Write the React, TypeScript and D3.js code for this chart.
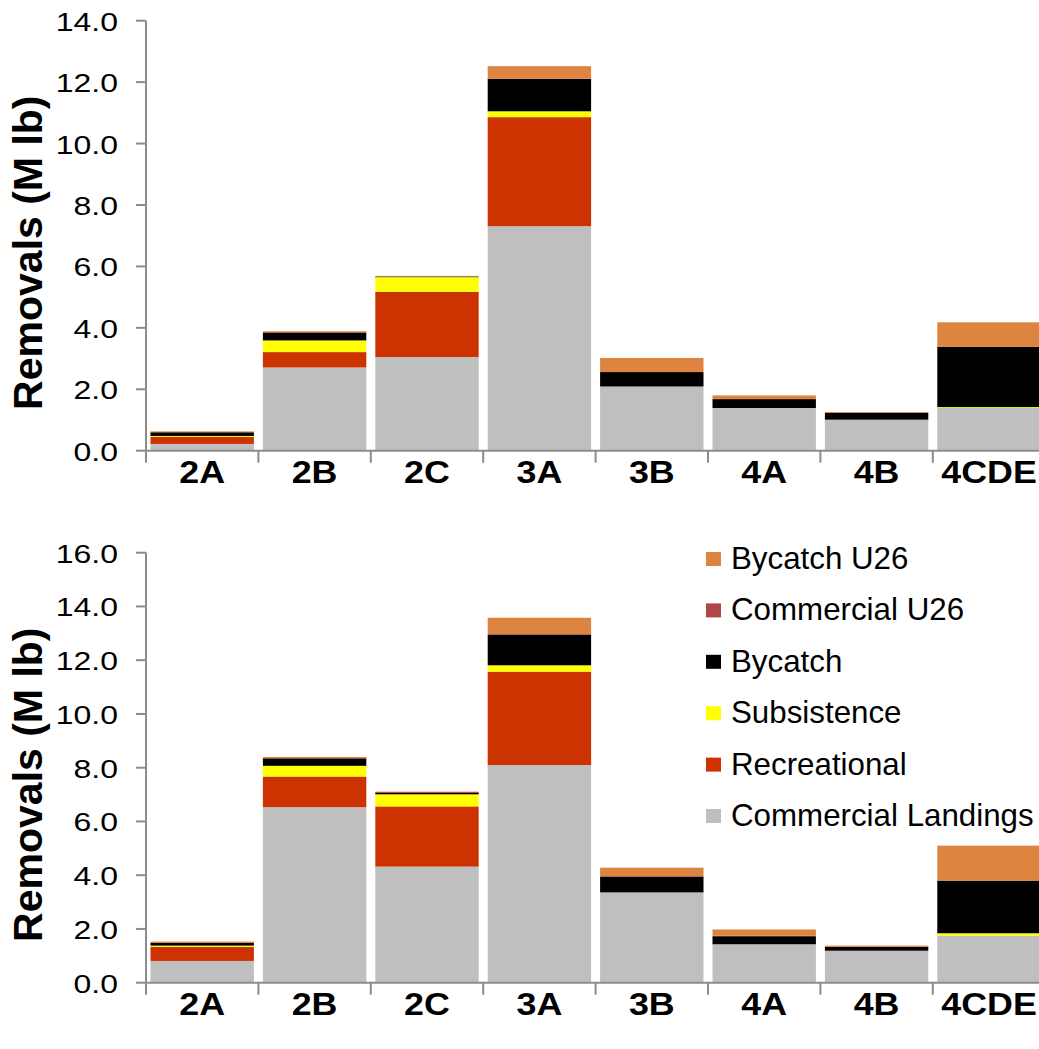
import React from 'react';
import * as d3 from 'd3';

const categories = ['2A', '2B', '2C', '3A', '3B', '4A', '4B', '4CDE'];

const seriesKeys = ['Commercial Landings', 'Recreational', 'Subsistence', 'Bycatch', 'Commercial U26', 'Bycatch U26'];
const seriesColors = ['#BFBFBF', '#CC3300', '#FFFF00', '#000000', '#B0464A', '#DD8540'];

// Top chart
const commercial1 = [0.22, 2.71, 3.05, 7.31, 2.09, 1.39, 1.01, 1.39];
const recreational1 = [0.23, 0.50, 2.12, 3.55, 0, 0, 0, 0];
const subsistence1 = [0.03, 0.38, 0.48, 0.19, 0, 0, 0, 0.03];
const bycatch1 = [0.12, 0.26, 0.02, 1.06, 0.47, 0.29, 0.22, 1.96];
const commU26_1 = [0, 0, 0.01, 0, 0, 0, 0, 0];
const bycatchU26_1 = [0.03, 0.04, 0.01, 0.41, 0.46, 0.12, 0.03, 0.80];

// Bottom chart
const commercial2 = [0.81, 6.53, 4.32, 8.10, 3.36, 1.43, 1.19, 1.75];
const recreational2 = [0.52, 1.14, 2.24, 3.47, 0, 0, 0, 0];
const subsistence2 = [0.05, 0.40, 0.45, 0.24, 0, 0, 0, 0.09];
const bycatch2 = [0.10, 0.28, 0.05, 1.15, 0.58, 0.30, 0.15, 1.96];
const commU26_2 = [0, 0, 0.04, 0, 0.03, 0.02, 0, 0];
const bycatchU26_2 = [0.05, 0.05, 0.01, 0.62, 0.31, 0.23, 0.04, 1.30];

const ticks1 = [0, 2, 4, 6, 8, 10, 12, 14];
const ticks2 = [0, 2, 4, 6, 8, 10, 12, 14, 16];

const legendOrder = ['Bycatch U26', 'Commercial U26', 'Bycatch', 'Subsistence', 'Recreational', 'Commercial Landings'];

const FONT = '"Liberation Sans", Arial, sans-serif';
const AXIS = '#8C8C8C';

function buildRows(series: number[][]) {
  return categories.map((c, i) => {
    const row: any = { cat: c };
    seriesKeys.forEach((k, j) => (row[k] = series[j][i]));
    return row;
  });
}

type PanelProps = { series: number[][]; yMax: number; ticks: number[]; top: number; bottom: number };

function Panel({ series, yMax, ticks, top, bottom }: PanelProps) {
  const left = 146;
  const step = 112.4;
  const x = d3.scaleBand<string>().domain(categories).range([left, left + step * categories.length]).paddingInner(0.08).paddingOuter(0.04);
  const y = d3.scaleLinear().domain([0, yMax]).range([bottom, top]);
  const rows = buildRows(series);
  const stacked = d3.stack<any>().keys(seriesKeys)(rows);
  const fmt = d3.format('.1f');
  const boundaries = d3.range(categories.length + 1).map((i) => left + i * step);
  return (
    <g>
      {stacked.map((layer, li) => (
        <g key={layer.key} fill={seriesColors[li]}>
          {layer.map((d, i) => {
            const h = y(d[0]) - y(d[1]);
            if (h <= 0) return null;
            return <rect key={i} x={x(categories[i])} y={y(d[1])} width={x.bandwidth()} height={h} />;
          })}
        </g>
      ))}
      {/* y axis */}
      <line x1={left} x2={left} y1={y(yMax)} y2={y(0)} stroke={AXIS} strokeWidth={2} />
      {ticks.map((t) => (
        <g key={t}>
          <line x1={left - 10} x2={left} y1={y(t)} y2={y(t)} stroke={AXIS} strokeWidth={2} />
          <text
            transform={`translate(118,${y(t) + 10}) scale(1.28,1)`}
            textAnchor="end"
            fontFamily={FONT}
            fontSize={25}
            fill="#000"
          >
            {fmt(t)}
          </text>
        </g>
      ))}
      {/* x axis */}
      <line x1={left} x2={1045} y1={y(0)} y2={y(0)} stroke={AXIS} strokeWidth={2} />
      {boundaries.map((b, i) => (
        <line key={i} x1={b} x2={b} y1={y(0)} y2={y(0) + 12} stroke={AXIS} strokeWidth={2} />
      ))}
      {categories.map((c) => (
        <text
          key={c}
          transform={`translate(${(x(c) as number) + x.bandwidth() / 2},${y(0) + 32}) scale(1.12,1)`}
          textAnchor="middle"
          fontFamily={FONT}
          fontWeight="bold"
          fontSize={32}
          fill="#000"
        >
          {c}
        </text>
      ))}
      <text
        transform={`translate(42,${(top + bottom) / 2 + 17}) rotate(-90)`}
        textAnchor="middle"
        fontFamily={FONT}
        fontWeight="bold"
        fontSize={41}
        fill="#000"
      >
        Removals (M lb)
      </text>
    </g>
  );
}

export default function App() {
  const s1 = [commercial1, recreational1, subsistence1, bycatch1, commU26_1, bycatchU26_1];
  const s2 = [commercial2, recreational2, subsistence2, bycatch2, commU26_2, bycatchU26_2];
  return (
    <svg width={1039} height={1049} style={{ position: 'absolute', left: 0, top: 0, background: '#fff' }}>
      <rect width={1039} height={1049} fill="#fff" />
      <Panel series={s1} yMax={14} ticks={ticks1} top={20.7} bottom={450.7} />
      <Panel series={s2} yMax={16} ticks={ticks2} top={552.7} bottom={982.7} />
      <g>
        {legendOrder.map((name, i) => {
          const cy = 559 + i * 51.4;
          const color = seriesColors[seriesKeys.indexOf(name)];
          return (
            <g key={name}>
              <rect x={706} y={cy - 7} width={15} height={14} fill={color} />
              <text x={731} y={cy + 10} fontFamily={FONT} fontSize={31.3} fill="#000">
                {name}
              </text>
            </g>
          );
        })}
      </g>
    </svg>
  );
}
